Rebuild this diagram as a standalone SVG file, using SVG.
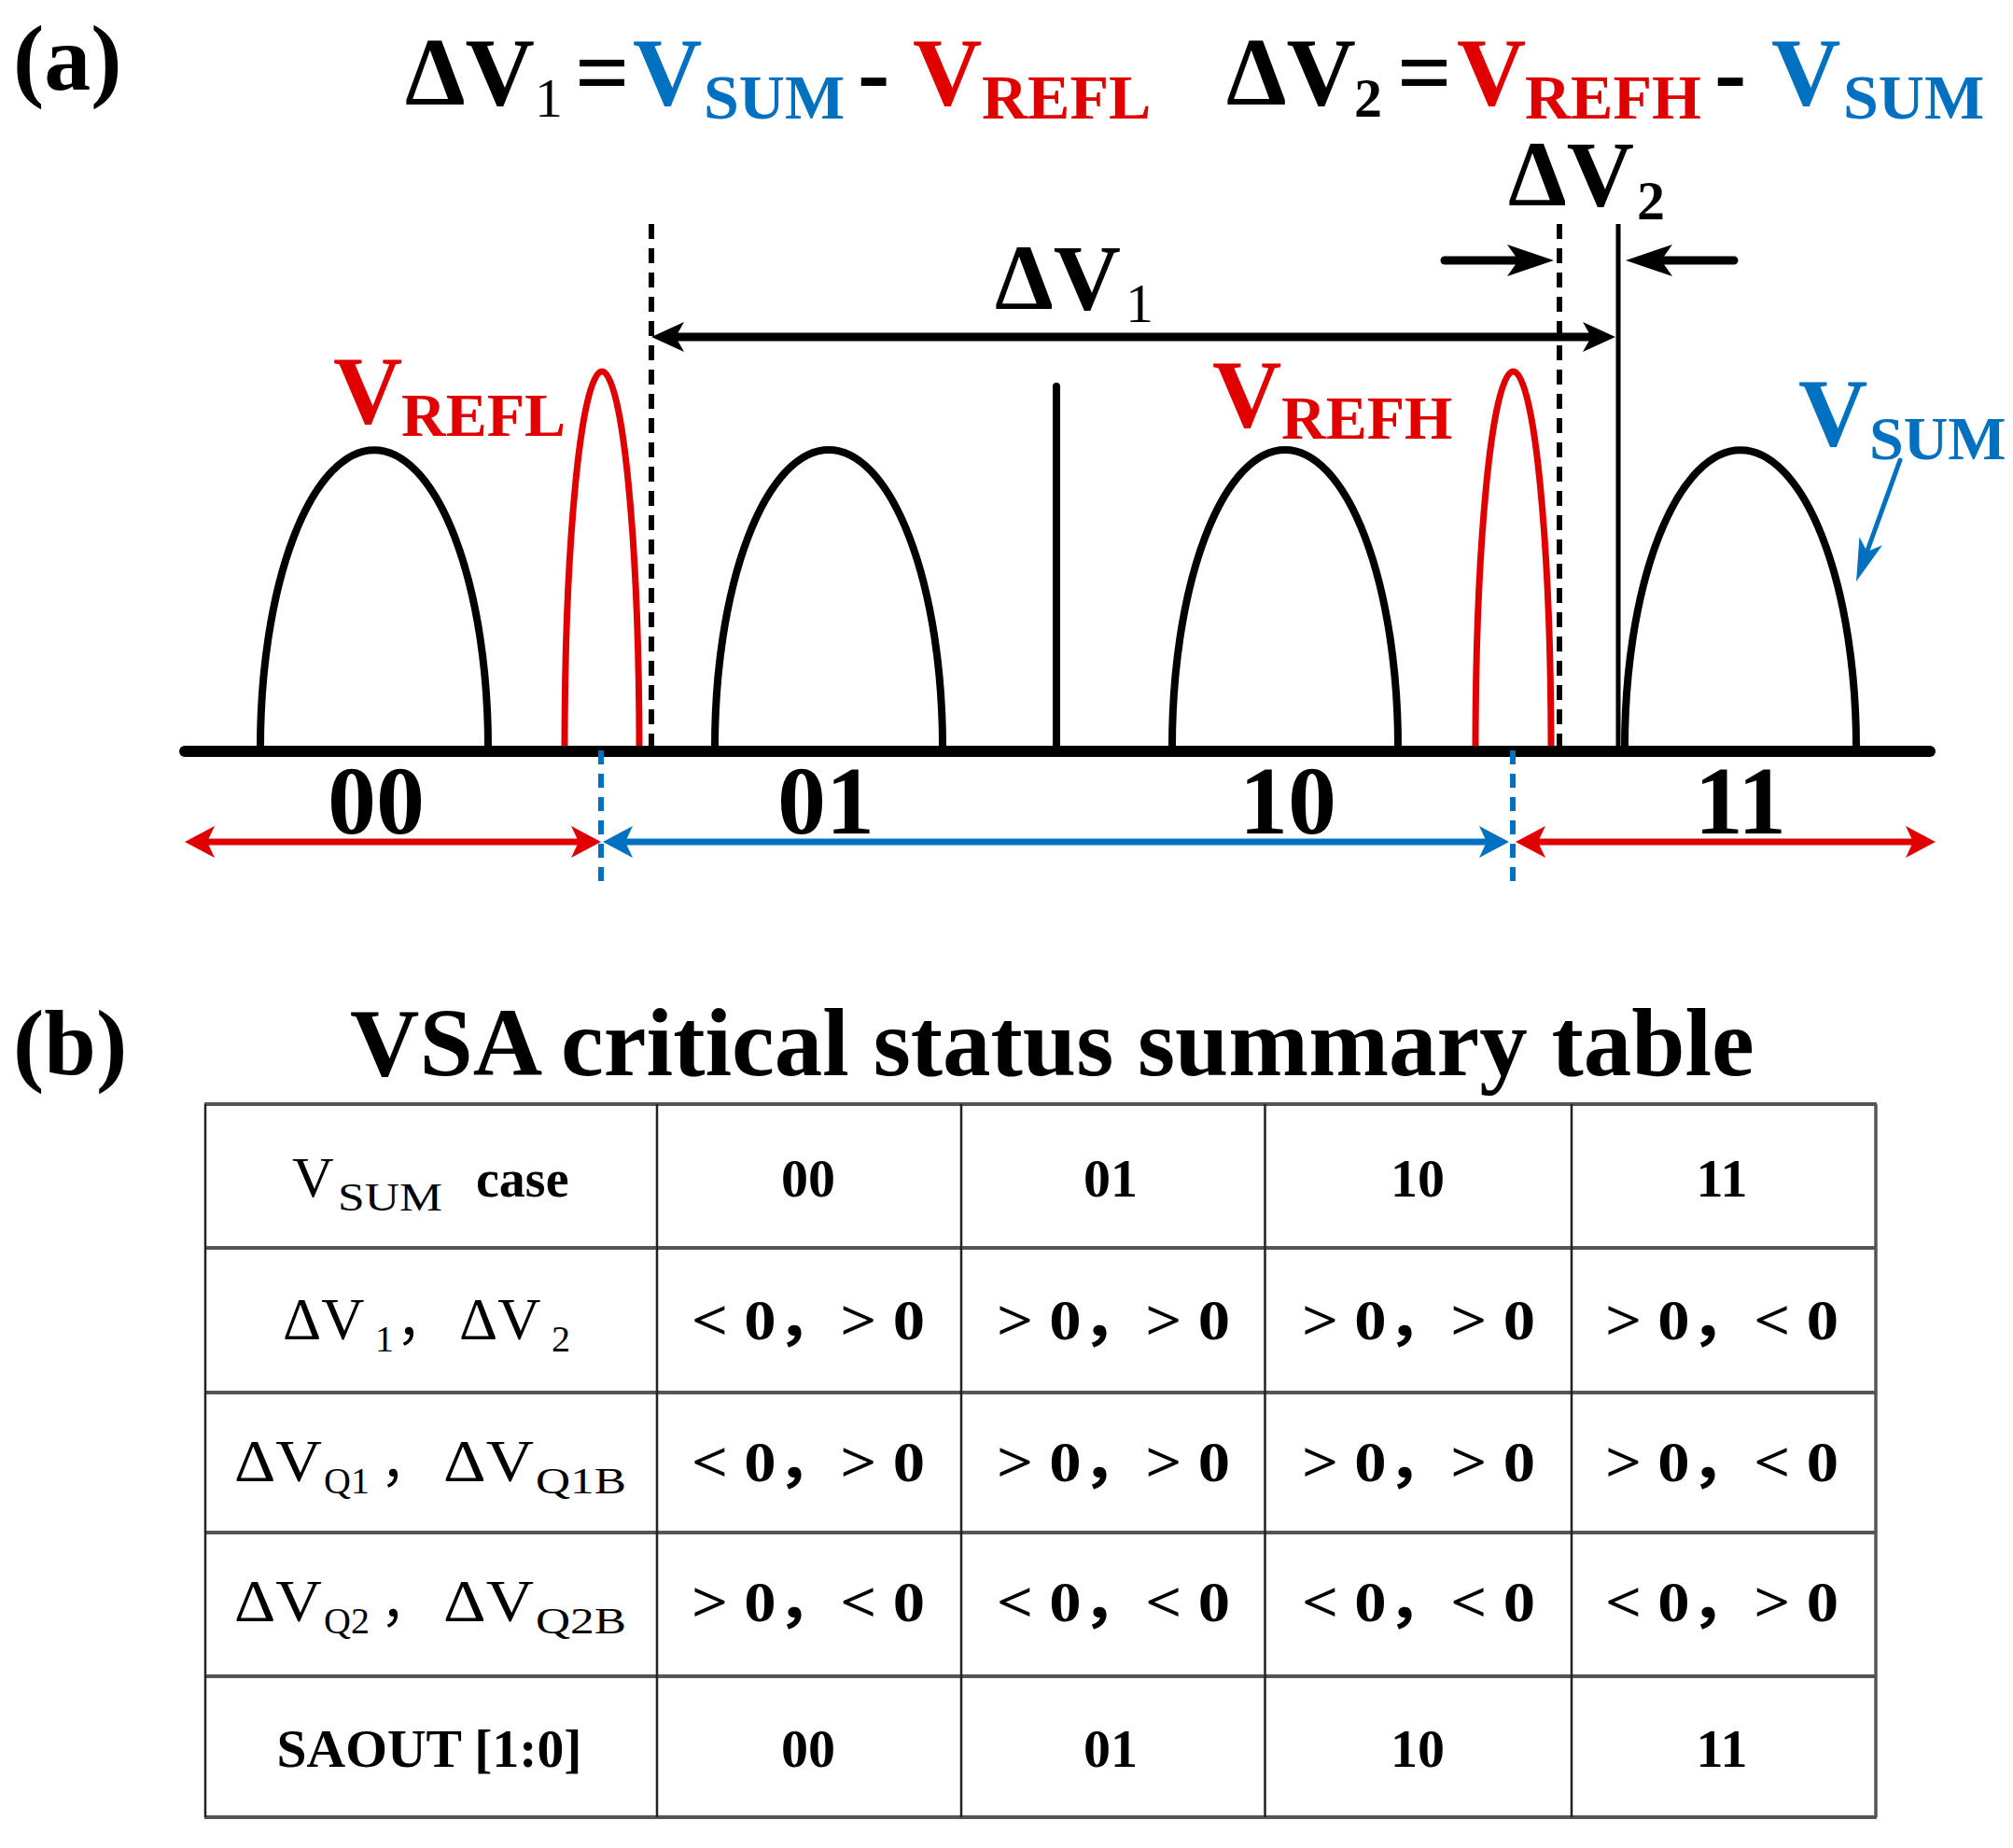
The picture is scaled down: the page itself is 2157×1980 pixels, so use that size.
<svg xmlns="http://www.w3.org/2000/svg" width="2157" height="1980" viewBox="0 0 2157 1980">
<style>
  .t { font-family: "Liberation Serif", "Times New Roman", "Noto Sans CJK SC", serif; }
  .b { font-weight: bold; }
  .blk { fill: #000; }
  .red { fill: #E00000; }
  .blu { fill: #0070C0; }
  .dome { fill: none; stroke: #000; stroke-width: 8; }
  .peak { fill: none; stroke: #E00000; stroke-width: 7; stroke-linecap: round; }
  .dash { stroke: #000; stroke-width: 6; stroke-dasharray: 16 10; }
  .bdash { stroke: #0070C0; stroke-width: 6; stroke-dasharray: 15 10; }
  .hl { stroke: #555; stroke-width: 4; }
  .vl { stroke: #222; stroke-width: 2.5; }
  .cell { font-size: 58px; font-weight: bold; text-anchor: middle; }
  .cmp { font-size: 62px; font-weight: bold; text-anchor: middle; }
</style>
<defs>
  <marker id="ahBlack" markerUnits="userSpaceOnUse" viewBox="-40 -20 42 40" markerWidth="42" markerHeight="40" refX="-26" refY="0" orient="auto-start-reverse">
    <path d="M0,0 L-35,-16 L-26,0 L-35,16 Z" fill="#000"/>
  </marker>
  <marker id="ahBlackL" markerUnits="userSpaceOnUse" viewBox="-55 -20 57 40" markerWidth="57" markerHeight="40" refX="-38" refY="0" orient="auto-start-reverse">
    <path d="M0,0 L-50,-17 L-38,0 L-50,17 Z" fill="#000"/>
  </marker>
  <marker id="ahRed" markerUnits="userSpaceOnUse" viewBox="-40 -20 42 40" markerWidth="42" markerHeight="40" refX="-24" refY="0" orient="auto-start-reverse">
    <path d="M0,0 L-32,-17 L-24,0 L-32,17 Z" fill="#E00000"/>
  </marker>
  <marker id="ahBlue" markerUnits="userSpaceOnUse" viewBox="-40 -20 42 40" markerWidth="42" markerHeight="40" refX="-24" refY="0" orient="auto-start-reverse">
    <path d="M0,0 L-32,-17 L-24,0 L-32,17 Z" fill="#0070C0"/>
  </marker>
  <marker id="ahBlueSm" markerUnits="userSpaceOnUse" viewBox="-50 -16 52 32" markerWidth="52" markerHeight="32" refX="-34" refY="0" orient="auto">
    <path d="M0,0 L-46,-13 L-34,0 L-46,13 Z" fill="#0070C0"/>
  </marker>
</defs>
<rect x="0" y="0" width="2157" height="1980" fill="#fff"/>

<!-- Panel labels -->
<g id="label-a"><text class="t b blk" x="14" y="96" font-size="100">(a)</text></g>
<g id="label-b"><text class="t b blk" x="14" y="1151" font-size="100">(b)</text></g>

<!-- Formulas -->
<g id="formula-1" class="t b">
  <text class="blk" x="434" y="112" font-size="103">ΔV</text>
  <text class="blk" x="573" y="125" font-size="60" font-weight="normal">1</text>
  <text class="blk" x="616" y="112" font-size="103">=</text>
  <text class="blu" x="678" y="112" font-size="103">V</text>
  <text class="blu" x="754" y="127" font-size="68">SUM</text>
  <text class="blk" x="919" y="112" font-size="103">-</text>
  <text class="red" x="978" y="112" font-size="103">V</text>
  <text class="red" x="1052" y="127" font-size="68">REFL</text>
</g>
<g id="formula-2" class="t b">
  <text class="blk" x="1314" y="112" font-size="103">ΔV</text>
  <text class="blk" x="1451" y="125" font-size="60">2</text>
  <text class="blk" x="1497" y="112" font-size="103">=</text>
  <text class="red" x="1561" y="112" font-size="103">V</text>
  <text class="red" x="1634" y="127" font-size="68">REFH</text>
  <text class="blk" x="1837" y="112" font-size="103">-</text>
  <text class="blu" x="1898" y="112" font-size="103">V</text>
  <text class="blu" x="1975" y="127" font-size="68">SUM</text>
</g>

<!-- Distributions -->
<g id="dist-00"><path class="dome" d="M279,800 A122,318 0 0 1 523,800"/></g>
<g id="dist-01"><path class="dome" d="M766,800 A122,318 0 0 1 1010,800"/></g>
<g id="dist-10"><path class="dome" d="M1256,800 A121,318 0 0 1 1498,800"/></g>
<g id="dist-11"><path class="dome" d="M1741,800 A124,318 0 0 1 1989,800"/></g>
<g id="ref-low"><path class="peak" d="M605,806 A40,408 0 0 1 685,806"/></g>
<g id="ref-high"><path class="peak" d="M1581,806 A40.5,408 0 0 1 1662,806"/></g>

<!-- Axis and vertical markers -->
<g id="axis">
  <line x1="198" y1="805" x2="2068" y2="805" stroke="#000" stroke-width="12" stroke-linecap="round"/>
  <line class="dash" x1="698" y1="240" x2="698" y2="800"/>
  <line class="dash" x1="1671" y1="240" x2="1671" y2="800"/>
  <line x1="1734" y1="240" x2="1734" y2="805" stroke="#000" stroke-width="5"/>
  <line x1="1132" y1="414" x2="1132" y2="805" stroke="#000" stroke-width="8" stroke-linecap="round"/>
  <line class="bdash" x1="644" y1="804" x2="644" y2="944"/>
  <line class="bdash" x1="1621" y1="804" x2="1621" y2="944"/>
</g>

<!-- Labels on plot -->
<g id="label-dv1" class="t b blk">
  <text x="1066" y="331" font-size="100">ΔV</text>
  <text x="1206" y="345" font-size="60" font-weight="normal">1</text>
</g>
<g id="label-dv2" class="t b blk">
  <text x="1616" y="220" font-size="100">ΔV</text>
  <text x="1754" y="235" font-size="60">2</text>
</g>
<g id="label-vrefl" class="t b red">
  <text x="357" y="453" font-size="103">V</text>
  <text x="430" y="467" font-size="66">REFL</text>
</g>
<g id="label-vrefh" class="t b red">
  <text x="1299" y="457" font-size="103">V</text>
  <text x="1373" y="470" font-size="66">REFH</text>
</g>
<g id="label-vsum" class="t b blu">
  <text x="1927" y="477" font-size="103">V</text>
  <text x="2003" y="492" font-size="66">SUM</text>
</g>
<g id="label-codes" class="t b blk" font-size="104" text-anchor="middle">
  <text x="403" y="893">00</text>
  <text x="885" y="893">01</text>
  <text x="1380" y="893">10</text>
  <text x="1865" y="893">11</text>
</g>

<!-- Connectors / arrows -->
<g id="connectors">
  <line x1="724" y1="361" x2="1705" y2="361" stroke="#000" stroke-width="9" marker-start="url(#ahBlack)" marker-end="url(#ahBlack)"/>
  <line x1="1548" y1="279" x2="1627" y2="279" stroke="#000" stroke-width="9" stroke-linecap="round" marker-end="url(#ahBlackL)"/>
  <line x1="1858" y1="279" x2="1780" y2="279" stroke="#000" stroke-width="9" stroke-linecap="round" marker-end="url(#ahBlackL)"/>
  <line x1="222" y1="902" x2="620" y2="902" stroke="#E00000" stroke-width="7" marker-start="url(#ahRed)" marker-end="url(#ahRed)"/>
  <line x1="670" y1="902" x2="1593" y2="902" stroke="#0070C0" stroke-width="7" marker-start="url(#ahBlue)" marker-end="url(#ahBlue)"/>
  <line x1="1648" y1="902" x2="2050" y2="902" stroke="#E00000" stroke-width="7" marker-start="url(#ahRed)" marker-end="url(#ahRed)"/>
  <line x1="2036" y1="493" x2="2000.6" y2="591" stroke="#0070C0" stroke-width="5" stroke-linecap="round" marker-end="url(#ahBlueSm)"/>
</g>

<!-- Table -->
<g id="title"><text class="t b blk" x="375" y="1152" font-size="103">VSA critical status summary table</text></g>
<g id="table">
  <g id="table-grid">
    <line class="hl" x1="219" y1="1183" x2="2011" y2="1183"/>
    <line class="hl" x1="219" y1="1337" x2="2011" y2="1337"/>
    <line class="hl" x1="219" y1="1492" x2="2011" y2="1492"/>
    <line class="hl" x1="219" y1="1642" x2="2011" y2="1642"/>
    <line class="hl" x1="219" y1="1796" x2="2011" y2="1796"/>
    <line class="hl" x1="219" y1="1947" x2="2011" y2="1947"/>
    <line class="vl" x1="220" y1="1183" x2="220" y2="1947"/>
    <line class="vl" x1="704" y1="1183" x2="704" y2="1947"/>
    <line class="vl" x1="1030" y1="1183" x2="1030" y2="1947"/>
    <line class="vl" x1="1355.5" y1="1183" x2="1355.5" y2="1947"/>
    <line class="vl" x1="1684" y1="1183" x2="1684" y2="1947"/>
    <line x1="2010" y1="1183" x2="2010" y2="1947" stroke="#555" stroke-width="3.5"/>
  </g>
  <g id="row-1" class="t blk">
    <text x="313" y="1282" font-size="62">V</text>
    <text x="362" y="1297" font-size="42" textLength="112" lengthAdjust="spacingAndGlyphs">SUM</text>
    <text class="b" x="510" y="1282" font-size="56">case</text>
    <text class="cell" x="866" y="1282" font-size="56">00</text>
    <text class="cell" x="1190" y="1282" font-size="56">01</text>
    <text class="cell" x="1519" y="1282" font-size="56">10</text>
    <text class="cell" x="1845" y="1282" font-size="56">11</text>
  </g>
  <g id="row-2" class="t blk">
    <text x="303" y="1435" font-size="64">ΔV</text>
    <text x="402" y="1448" font-size="40">1</text>
    <text x="424" y="1435" font-size="58">，</text>
    <text x="492" y="1435" font-size="64">ΔV</text>
    <text x="591" y="1448" font-size="40">2</text>
    <text class="cmp" x="866" y="1435" textLength="250" lengthAdjust="spacingAndGlyphs">&lt; 0，&gt; 0</text>
    <text class="cmp" x="1193" y="1435" textLength="250" lengthAdjust="spacingAndGlyphs">&gt; 0，&gt; 0</text>
    <text class="cmp" x="1520" y="1435" textLength="250" lengthAdjust="spacingAndGlyphs">&gt; 0，&gt; 0</text>
    <text class="cmp" x="1845" y="1435" textLength="250" lengthAdjust="spacingAndGlyphs">&gt; 0，&lt; 0</text>
  </g>
  <g id="row-3" class="t blk">
    <text x="251" y="1587" font-size="64" textLength="94" lengthAdjust="spacingAndGlyphs">ΔV</text>
    <text x="347" y="1600" font-size="40">Q1</text>
    <text x="407" y="1587" font-size="58">，</text>
    <text x="475" y="1587" font-size="64" textLength="97" lengthAdjust="spacingAndGlyphs">ΔV</text>
    <text x="574" y="1600" font-size="40" textLength="97" lengthAdjust="spacingAndGlyphs">Q1B</text>
    <text class="cmp" x="866" y="1587" textLength="250" lengthAdjust="spacingAndGlyphs">&lt; 0，&gt; 0</text>
    <text class="cmp" x="1193" y="1587" textLength="250" lengthAdjust="spacingAndGlyphs">&gt; 0，&gt; 0</text>
    <text class="cmp" x="1520" y="1587" textLength="250" lengthAdjust="spacingAndGlyphs">&gt; 0，&gt; 0</text>
    <text class="cmp" x="1845" y="1587" textLength="250" lengthAdjust="spacingAndGlyphs">&gt; 0，&lt; 0</text>
  </g>
  <g id="row-4" class="t blk">
    <text x="251" y="1737" font-size="64" textLength="94" lengthAdjust="spacingAndGlyphs">ΔV</text>
    <text x="347" y="1750" font-size="40">Q2</text>
    <text x="407" y="1737" font-size="58">，</text>
    <text x="475" y="1737" font-size="64" textLength="97" lengthAdjust="spacingAndGlyphs">ΔV</text>
    <text x="574" y="1750" font-size="40" textLength="97" lengthAdjust="spacingAndGlyphs">Q2B</text>
    <text class="cmp" x="866" y="1737" textLength="250" lengthAdjust="spacingAndGlyphs">&gt; 0，&lt; 0</text>
    <text class="cmp" x="1193" y="1737" textLength="250" lengthAdjust="spacingAndGlyphs">&lt; 0，&lt; 0</text>
    <text class="cmp" x="1520" y="1737" textLength="250" lengthAdjust="spacingAndGlyphs">&lt; 0，&lt; 0</text>
    <text class="cmp" x="1845" y="1737" textLength="250" lengthAdjust="spacingAndGlyphs">&lt; 0，&gt; 0</text>
  </g>
  <g id="row-5" class="t blk">
    <text class="b" x="460" y="1893" font-size="57" text-anchor="middle" textLength="327" lengthAdjust="spacingAndGlyphs">SAOUT [1:0]</text>
    <text class="cell" x="866" y="1893" font-size="56">00</text>
    <text class="cell" x="1190" y="1893" font-size="56">01</text>
    <text class="cell" x="1519" y="1893" font-size="56">10</text>
    <text class="cell" x="1845" y="1893" font-size="56">11</text>
  </g>
</g>
</svg>
